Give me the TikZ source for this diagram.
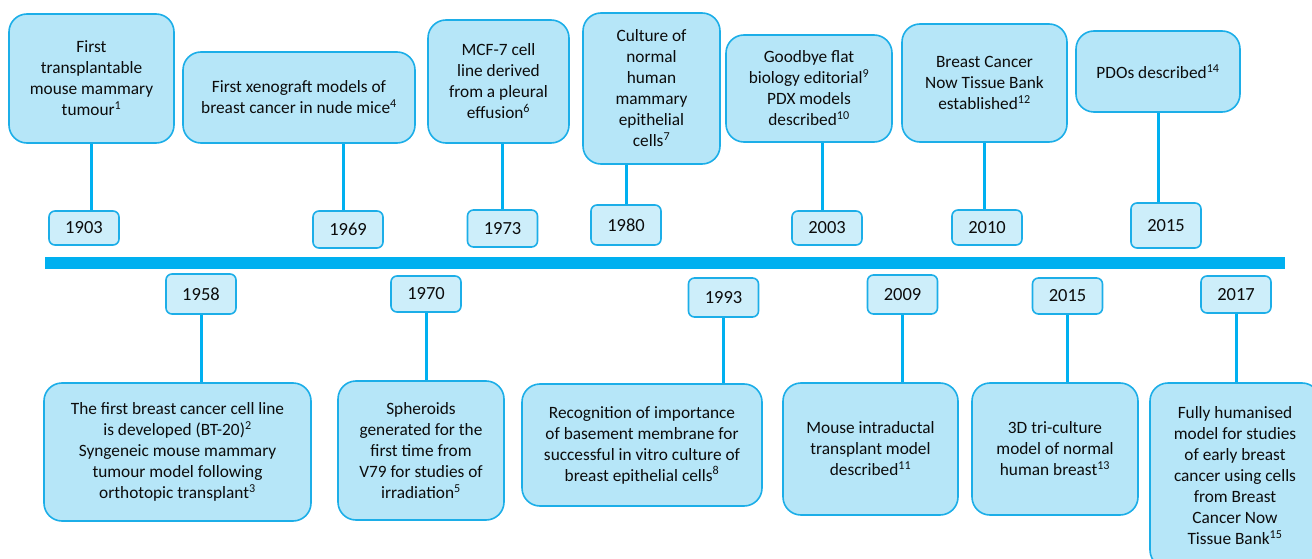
\documentclass[tikz,border=0pt]{standalone}
\usepackage{fontspec}
\setmainfont{Carlito}
\definecolor{tlblue}{RGB}{0,176,240}
\definecolor{boxline}{RGB}{28,174,232}
\definecolor{boxfill}{RGB}{182,230,248}
\definecolor{yearfill}{RGB}{205,238,250}
\definecolor{textgrey}{RGB}{12,12,12}
\tikzset{
  event/.style={draw=boxline, line width=1.6pt, fill=boxfill, rounded corners=18pt,
    align=center, inner sep=0pt, text=textgrey, font=\fontsize{17.3}{21}\selectfont},
  yearbox/.style={draw=boxline, line width=1.6pt, fill=yearfill, rounded corners=6pt,
    inner sep=0pt, minimum width=70, minimum height=36, text=textgrey,
    font=\fontsize{18.5}{22}\selectfont},
  link/.style={draw=tlblue, line width=3pt},
}
\begin{document}
\begin{tikzpicture}[x=1pt, y=-1pt]
\useasboundingbox (0,0) rectangle (1312,559);
\clip (0,0) rectangle (1312,559);
% timeline
\fill[tlblue] (45,257) rectangle (1285,269);
% above the line
\node[event, minimum width=165, minimum height=129] (e1903) at (91.5,78.5) {First\\transplantable\\mouse mammary\\tumour\textsuperscript{1}};
\node[yearbox, minimum height=34] (y1903) at (84,228) {1903};
\draw[link] (e1903.south) -- (e1903.south |- y1903.north);
\node[event, minimum width=232, minimum height=91] (e1969) at (299,97.5) {First xenograft models of\\breast cancer in nude mice\textsuperscript{4}};
\node[yearbox, minimum height=37] (y1969) at (348,229.5) {1969};
\draw[link] ([xshift=-5]y1969.north) -- ([xshift=-5]y1969.north |- e1969.south);
\node[event, minimum width=141, minimum height=123] (e1973) at (498.5,81.5) {MCF-7 cell\\line derived\\from a pleural\\effusion\textsuperscript{6}};
\node[yearbox, minimum height=37] (y1973) at (502.5,228.5) {1973};
\draw[link] (y1973.north) -- (y1973.north |- e1973.south);
\node[event, minimum width=137, minimum height=151] (e1980) at (651.5,88.5) {Culture of\\normal\\human\\mammary\\epithelial\\cells\textsuperscript{7}};
\node[yearbox, minimum height=40] (y1980) at (626,225) {1980};
\draw[link] (y1980.north) -- (y1980.north |- e1980.south);
\node[event, minimum width=166, minimum height=107] (e2003) at (809,88.5) {Goodbye flat\\biology editorial\textsuperscript{9}\\PDX models\\described\textsuperscript{10}};
\node[yearbox, minimum height=34] (y2003) at (827,228) {2003};
\draw[link] ([xshift=-5]y2003.north) -- ([xshift=-5]y2003.north |- e2003.south);
\node[event, minimum width=165, minimum height=118] (e2010) at (984.5,83) {Breast Cancer\\Now Tissue Bank\\established\textsuperscript{12}};
\node[yearbox, minimum height=35] (y2010) at (987,227.5) {2010};
\draw[link] (e2010.south) -- (e2010.south |- y2010.north);
\node[event, minimum width=164, minimum height=81] (e2015a) at (1158,71.5) {PDOs described\textsuperscript{14}};
\node[yearbox, minimum height=45] (y2015a) at (1166,225.5) {2015};
\draw[link] (e2015a.south) -- (e2015a.south |- y2015a.north);
% below the line
\node[yearbox, minimum height=40] (y1958) at (201,294) {1958};
\node[event, minimum width=267, minimum height=138] (e1958) at (177.5,452) {The first breast cancer cell line\\is developed (BT-20)\textsuperscript{2}\\Syngeneic mouse mammary\\tumour model following\\orthotopic transplant\textsuperscript{3}};
\draw[link] (y1958.south) -- (y1958.south |- e1958.north);
\node[yearbox] (y1970) at (426,294) {1970};
\node[event, minimum width=166, minimum height=139] (e1970) at (421,450.5) {Spheroids\\generated for the\\first time from\\V79 for studies of\\irradiation\textsuperscript{5}};
\draw[link] (y1970.south) -- (y1970.south |- e1970.north);
\node[yearbox, minimum height=39] (y1993) at (723.5,297.5) {1993};
\node[event, minimum width=240, minimum height=122] (e1993) at (642,445) {Recognition of importance\\of basement membrane for\\successful in vitro culture of\\breast epithelial cells\textsuperscript{8}};
\draw[link] (y1993.south) -- (y1993.south |- e1993.north);
\node[yearbox, minimum height=39] (y2009) at (902.5,294.5) {2009};
\node[event, minimum width=175, minimum height=132] (e2009) at (870.5,449) {Mouse intraductal\\transplant model\\described\textsuperscript{11}};
\draw[link] (y2009.south) -- (y2009.south |- e2009.north);
\node[yearbox] (y2015b) at (1067.5,296) {2015};
\node[event, minimum width=166, minimum height=132] (e2015b) at (1055,449) {3D tri-culture\\model of normal\\human breast\textsuperscript{13}};
\draw[link] (y2015b.south) -- (y2015b.south |- e2015b.north);
\node[yearbox, minimum height=37] (y2017) at (1236,294.5) {2017};
\node[event, minimum width=170, minimum height=185] (e2017) at (1235,475.5) {Fully humanised\\model for studies\\of early breast\\cancer using cells\\from Breast\\Cancer Now\\Tissue Bank\textsuperscript{15}};
\draw[link] (y2017.south) -- (y2017.south |- e2017.north);
\end{tikzpicture}
\end{document}
